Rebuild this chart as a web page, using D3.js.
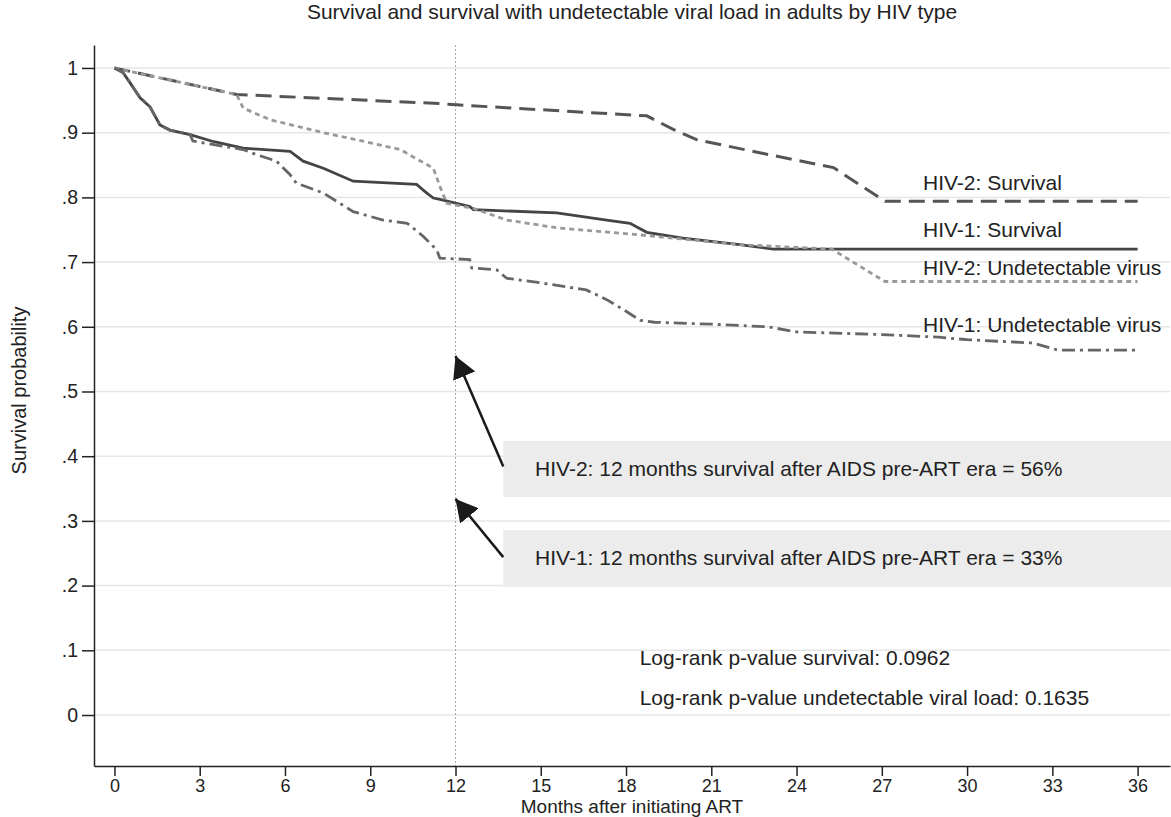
<!DOCTYPE html>
<html>
<head>
<meta charset="utf-8">
<script src="https://cdn.jsdelivr.net/npm/d3@7"></script>
<style>
  body { margin: 0; background: #fff; }
  text { font-family: "Liberation Sans", Arial, Helvetica, sans-serif; fill: #222; }
</style>
</head>
<body>
<script>
// survival curves, [month, probability]
var hiv1Survival = [[0,1],[0.3,0.993],[0.55,0.977],[0.9,0.954],[1.25,0.94],[1.6,0.912],[1.95,0.904],
  [2.66,0.897],[3.5,0.886],[4.53,0.876],[6.18,0.871],[6.64,0.856],[7.35,0.845],[8.4,0.825],
  [10.63,0.82],[10.98,0.807],[11.22,0.799],[11.45,0.797],[12.5,0.786],[12.63,0.781],[15.56,0.776],
  [17.32,0.765],[18.14,0.76],[18.73,0.746],[20,0.737],[22,0.727],[23.18,0.72],[36,0.72]];

var hiv2Survival = [[0,1],[4.3,0.959],[11.45,0.945],[12.04,0.943],[18.73,0.926],[19.66,0.905],
  [20.5,0.889],[22.7,0.869],[25.3,0.846],[27.11,0.794],[36,0.794]];

var hiv2Undetect = [[0,1],[4.3,0.959],[4.53,0.938],[5.47,0.92],[7.35,0.9],[8.52,0.889],[10.05,0.874],
  [11.22,0.845],[11.45,0.817],[11.69,0.791],[12.5,0.784],[12.63,0.783],[13.8,0.765],[15.56,0.753],
  [18.49,0.742],[22,0.727],[25.24,0.72],[27.11,0.67],[36,0.67]];

var hiv1Undetect = [[0,1],[0.3,0.993],[0.55,0.977],[0.9,0.954],[1.25,0.94],[1.6,0.912],[1.95,0.904],
  [2.66,0.897],[2.76,0.887],[4.52,0.874],[5.0,0.866],[5.7,0.856],[6.18,0.835],[6.4,0.822],
  [7.34,0.807],[8.4,0.778],[9.45,0.765],[10.3,0.76],[10.86,0.74],[11.34,0.719],[11.45,0.706],
  [12.5,0.704],[12.57,0.691],[13.45,0.688],[13.8,0.675],[14.97,0.668],[16.14,0.66],[16.6,0.657],
  [17.32,0.642],[18,0.624],[18.5,0.61],[19,0.607],[21,0.604],[23,0.6],[24,0.592],[27,0.588],
  [29,0.584],[30,0.58],[32.3,0.575],[33.2,0.564],[36,0.564]];

var seriesNames = ["HIV-2: Survival","HIV-1: Survival","HIV-2: Undetectable virus","HIV-1: Undetectable virus"];
var seriesData = [hiv2Survival, hiv1Survival, hiv2Undetect, hiv1Undetect];
var labelY = [0.812, 0.738, 0.68, 0.592];

var xTicks = d3.range(0, 37, 3);
var yTicks = [0, 0.1, 0.2, 0.3, 0.4, 0.5, 0.6, 0.7, 0.8, 0.9, 1];

var notes = ["HIV-2: 12 months survival after AIDS pre-ART era = 56%",
             "HIV-1: 12 months survival after AIDS pre-ART era = 33%"];
var arrowTips = [0.555, 0.334];
var pValues = ["Log-rank p-value survival: 0.0962",
               "Log-rank p-value undetectable viral load: 0.1635"];

var width = 1171, height = 817;
var plotLeft = 94, plotRight = 1170, plotTop = 45, plotBottom = 766;

var svg = d3.select("body").append("svg")
  .attr("width", width)
  .attr("height", height);

var x = d3.scaleLinear().domain([-0.72, 37.14]).range([plotLeft, plotRight]);
var y = d3.scaleLinear().domain([-0.0788, 1.0355]).range([plotBottom, plotTop]);

// grid
svg.append("g").selectAll("line")
  .data(yTicks)
  .enter().append("line")
  .attr("x1", plotLeft).attr("x2", plotRight)
  .attr("y1", d => y(d)).attr("y2", d => y(d))
  .attr("stroke", "#e6e6e6")
  .attr("stroke-width", 1.5);

// reference line at 12 months
svg.append("line")
  .attr("x1", x(12)).attr("x2", x(12))
  .attr("y1", plotTop).attr("y2", plotBottom)
  .attr("stroke", "#aaa")
  .attr("stroke-width", 1)
  .attr("stroke-dasharray", "2,2");

// annotation boxes
var boxes = [[0.4237, 0.337], [0.286, 0.198]];
svg.append("g").selectAll("rect")
  .data(boxes)
  .enter().append("rect")
  .attr("x", x(13.68))
  .attr("y", d => y(d[0]))
  .attr("width", width - x(13.68))
  .attr("height", d => y(d[1]) - y(d[0]))
  .attr("fill", "#ececec");

svg.append("g").selectAll("text")
  .data(notes)
  .enter().append("text")
  .attr("x", x(14.8))
  .attr("y", (d, i) => y((boxes[i][0] + boxes[i][1]) / 2) + 7)
  .attr("font-size", "21px")
  .text(d => d);

// arrows
svg.append("defs").append("marker")
  .attr("id", "head")
  .attr("viewBox", "0 0 22 24")
  .attr("refX", 22).attr("refY", 12)
  .attr("markerWidth", 22).attr("markerHeight", 24)
  .attr("markerUnits", "userSpaceOnUse")
  .attr("orient", "auto")
  .append("path")
  .attr("d", "M0,0 L22,12 L0,24 Z")
  .attr("fill", "#1a1a1a");

var arrowTails = [0.384, 0.244];
svg.append("g").selectAll("line")
  .data(arrowTips)
  .enter().append("line")
  .attr("x1", x(13.68)).attr("y1", (d, i) => y(arrowTails[i]))
  .attr("x2", x(12)).attr("y2", d => y(d))
  .attr("stroke", "#1a1a1a")
  .attr("stroke-width", 2.5)
  .attr("marker-end", "url(#head)");

// curves
var line = d3.line().x(d => x(d[0])).y(d => y(d[1]));
var dashes = ["16,8", null, "5,4", "13,5,3,5"];
var colors = ["#555", "#444", "#999", "#666"];
var widths = [3, 2.8, 2.8, 2.8];

svg.append("g").selectAll("path")
  .data(seriesData)
  .enter().append("path")
  .attr("d", line)
  .attr("fill", "none")
  .attr("stroke", (d, i) => colors[i])
  .attr("stroke-width", (d, i) => widths[i])
  .attr("stroke-dasharray", (d, i) => dashes[i]);

svg.append("g").selectAll("text")
  .data(seriesNames)
  .enter().append("text")
  .attr("x", x(28.45))
  .attr("y", (d, i) => y(labelY[i]))
  .attr("font-size", "21px")
  .text(d => d);

// p-values
svg.append("g").selectAll("text")
  .data(pValues)
  .enter().append("text")
  .attr("x", x(18.48))
  .attr("y", (d, i) => y(0.078 - i * 0.062))
  .attr("font-size", "21px")
  .text(d => d);

// axes
svg.append("g")
  .attr("transform", "translate(" + plotLeft + ",0)")
  .call(d3.axisLeft(y).tickValues(yTicks).tickSize(12).tickSizeOuter(0).tickPadding(4)
    .tickFormat(d => d === 0 ? "0" : d === 1 ? "1" : d3.format(".1f")(d).replace(/^0/, "")));

var xAxis = svg.append("g")
  .attr("transform", "translate(0," + plotBottom + ")")
  .call(d3.axisBottom(x).tickValues(xTicks).tickSize(10).tickSizeOuter(0).tickPadding(3));

svg.selectAll(".tick text").attr("font-size", "19.5px").attr("fill", "#222")
  .attr("font-family", "Liberation Sans, Arial, sans-serif");
xAxis.selectAll(".tick text").attr("font-size", "18px");
svg.selectAll(".domain, .tick line").attr("stroke", "#222").attr("stroke-width", 1.5);

// titles
svg.append("text")
  .attr("x", (plotLeft + plotRight) / 2)
  .attr("y", 19)
  .attr("text-anchor", "middle")
  .attr("font-size", "21px")
  .text("Survival and survival with undetectable viral load in adults by HIV type");

svg.append("text")
  .attr("x", (plotLeft + plotRight) / 2)
  .attr("y", 813)
  .attr("text-anchor", "middle")
  .attr("font-size", "19px")
  .text("Months after initiating ART");

svg.append("text")
  .attr("transform", "translate(26," + ((plotTop + plotBottom) / 2 - 15) + ") rotate(-90)")
  .attr("text-anchor", "middle")
  .attr("font-size", "20px")
  .text("Survival probability");
</script>
</body>
</html>
